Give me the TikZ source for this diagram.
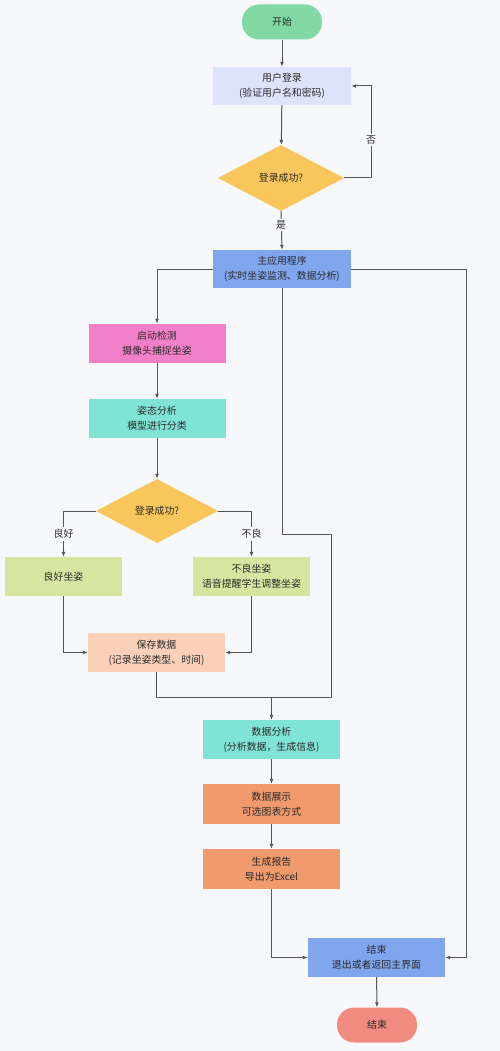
\documentclass[tikz,border=0pt]{standalone}
\usepackage{fontspec}
\setmainfont{Noto Sans CJK SC}
\usetikzlibrary{shapes.geometric,arrows.meta,positioning}
\definecolor{bgc}{HTML}{F7F8FB}
\definecolor{cstart}{HTML}{82D9A3}
\definecolor{clogin}{HTML}{DDE3FA}
\definecolor{cdia}{HTML}{F8C65A}
\definecolor{cblue}{HTML}{80A6EE}
\definecolor{cpink}{HTML}{F280C8}
\definecolor{cteal}{HTML}{80E4D4}
\definecolor{cgood}{HTML}{D6E6A0}
\definecolor{csave}{HTML}{FAD0B8}
\definecolor{corange}{HTML}{F19A6E}
\definecolor{cfinal}{HTML}{F28C82}
\definecolor{ctext}{HTML}{2A2A2A}
\definecolor{cline}{HTML}{555555}
\tikzset{
  base/.style={font=\fontsize{9.9}{15}\selectfont, text=ctext, align=center, inner sep=0pt},
  proc/.style={base, rectangle, minimum width=137pt, minimum height=39pt},
  term/.style={base, rectangle, rounded corners=17pt, minimum width=80pt, minimum height=35pt},
  deci/.style={base, diamond, shape aspect=1.9},
  conn/.style={draw=cline, line width=1pt},
  arr/.style={conn, -{Latex[length=5pt,width=4pt]}},
  lbl/.style={base, fill=bgc, inner sep=2pt}
}
\begin{document}
\begin{tikzpicture}[x=1pt,y=-1pt]
\fill[bgc] (0,0) rectangle (500,1051);
\useasboundingbox (0,0) rectangle (500,1051);

\node[term, fill=cstart] (start) at (282,22) {开始};
\node[proc, fill=clogin, minimum width=138pt, minimum height=38pt] (login) at (282,86) {用户登录\\(验证用户名和密码)};
\node[deci, fill=cdia, minimum width=126pt, minimum height=66pt] (dec1) at (281,178) {登录成功?};
\node[proc, fill=cblue, minimum width=138pt, minimum height=38pt] (main) at (282,269) {主应用程序\\(实时坐姿监测、数据分析)};
\node[proc, fill=cpink] (detect) at (157,343.5) {启动检测\\摄像头捕捉坐姿};
\node[proc, fill=cteal] (pose) at (157,418.5) {姿态分析\\模型进行分类};
\node[deci, fill=cdia, minimum width=122pt, minimum height=64pt] (dec2) at (157,511) {登录成功?};
\node[proc, fill=cgood, minimum width=117pt] (good) at (63.5,576.5) {良好坐姿};
\node[proc, fill=cgood, minimum width=117pt] (bad) at (251.5,576.5) {不良坐姿\\语音提醒学生调整坐姿};
\node[proc, fill=csave] (save) at (156.5,652.5) {保存数据\\(记录坐姿类型、时间)};
\node[proc, fill=cteal] (analysis) at (271.5,739.5) {数据分析\\(分析数据，生成信息)};
\node[proc, fill=corange, minimum height=40pt] (display) at (271.5,804) {数据展示\\可选图表方式};
\node[proc, fill=corange, minimum height=40pt] (report) at (271.5,869) {生成报告\\导出为Excel};
\node[proc, fill=cblue] (endbox) at (376.5,957.5) {结束\\退出或者返回主界面};
\node[term, fill=cfinal] (final) at (377,1025) {结束};

\coordinate (noturn) at (371,178);
\coordinate (rtop) at (466,269);
\coordinate (m1) at (282,534);
\coordinate (m2) at (331,534);
\coordinate (m3) at (331,697);
\coordinate (join) at (271.5,697);

\draw[arr] (start) -- (login);
\draw[arr] (login) -- (dec1);
\draw[arr] (dec1.east) -- (noturn) |- (login.east);
\node[lbl] (no) at (371,140) {否};
\draw[arr] (dec1.south) -- (main.north);
\node[lbl] (yes) at (281,225) {是};
\draw[arr] (main.west) -| (detect.north);
\draw[arr] (main.east) -- (rtop) |- (endbox.east);
\draw[conn] (main.south) -- (m1) -- (m2) -- (m3) -- (join);
\draw[arr] (detect) -- (pose);
\draw[arr] (pose) -- (dec2);
\draw[arr] (dec2.west) -| (good.north);
\draw[arr] (dec2.east) -| (bad.north);
\node[lbl] (lgood) at (63.5,534) {良好};
\node[lbl] (lbad) at (251.5,534) {不良};
\draw[arr] (good.south) |- (save.west);
\draw[arr] (bad.south) |- (save.east);
\draw[conn] (save.south) |- (join);
\draw[arr] (join) -- (analysis.north);
\draw[arr] (analysis) -- (display);
\draw[arr] (display) -- (report);
\draw[arr] (report.south) |- (endbox.west);
\draw[arr] (endbox) -- (final);
\end{tikzpicture}
\end{document}
